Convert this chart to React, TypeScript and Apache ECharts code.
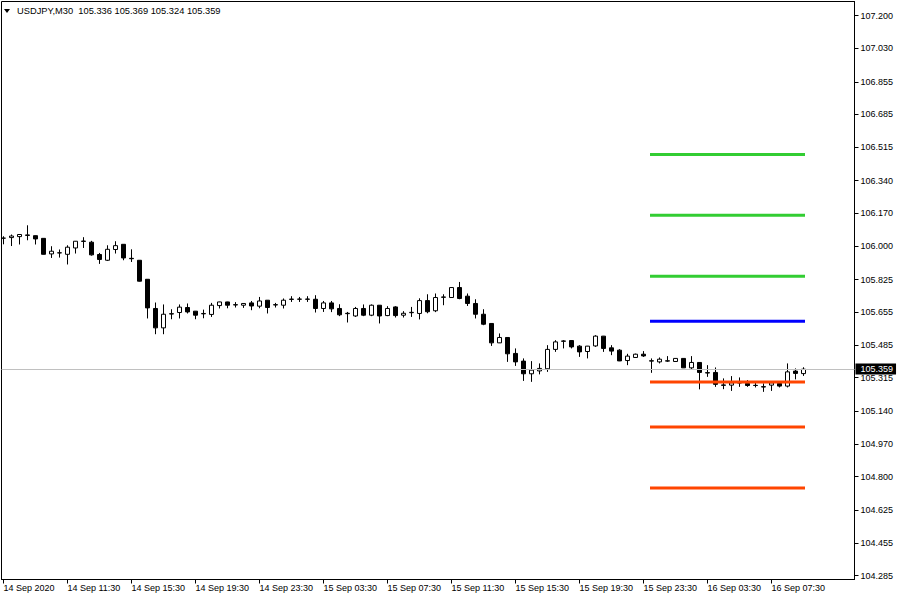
import React, { useEffect, useRef } from "react";
import * as echarts from "echarts";

const symbolTitle = "USDJPY,M30";
const lastQuote = ["105.336", "105.369", "105.324", "105.359"];

const opens = [
  106.041, 106.044, 106.049, 106.055, 106.054, 106.040, 105.959, 105.964, 105.957, 105.990,
  106.024, 106.020, 105.956, 105.926, 105.982, 106.009, 105.936, 105.926, 105.827, 105.675,
  105.574, 105.646, 105.654, 105.680, 105.661, 105.647, 105.644, 105.690, 105.709, 105.693,
  105.692, 105.704, 105.687, 105.718, 105.693, 105.692, 105.722, 105.723, 105.724, 105.723,
  105.675, 105.704, 105.675, 105.648, 105.636, 105.675, 105.640, 105.692, 105.638, 105.683,
  105.640, 105.653, 105.649, 105.716, 105.663, 105.733, 105.732, 105.784, 105.739, 105.701,
  105.645, 105.597, 105.496, 105.524, 105.441, 105.401, 105.335, 105.350, 105.361, 105.462,
  105.504, 105.508, 105.479, 105.451, 105.480, 105.531, 105.470, 105.458, 105.404, 105.420,
  105.437, 105.403, 105.397, 105.401, 105.399, 105.415, 105.366, 105.394, 105.341, 105.342,
  105.277, 105.276, 105.287, 105.285, 105.275, 105.268, 105.276, 105.285, 105.271, 105.349,
  105.336,
];
const highs = [
  106.051, 106.060, 106.061, 106.108, 106.055, 106.041, 105.999, 105.982, 106.004, 106.026,
  106.046, 106.027, 105.964, 106.004, 106.025, 106.010, 105.983, 105.927, 105.828, 105.706,
  105.696, 105.671, 105.696, 105.701, 105.662, 105.669, 105.704, 105.710, 105.710, 105.708,
  105.702, 105.714, 105.735, 105.719, 105.704, 105.727, 105.739, 105.735, 105.739, 105.744,
  105.714, 105.714, 105.697, 105.657, 105.683, 105.696, 105.696, 105.693, 105.687, 105.687,
  105.661, 105.683, 105.728, 105.749, 105.753, 105.749, 105.785, 105.813, 105.753, 105.723,
  105.671, 105.598, 105.545, 105.525, 105.467, 105.415, 105.401, 105.389, 105.484, 105.510,
  105.510, 105.509, 105.484, 105.480, 105.536, 105.532, 105.484, 105.463, 105.439, 105.440,
  105.453, 105.415, 105.420, 105.427, 105.416, 105.416, 105.427, 105.395, 105.380, 105.368,
  105.311, 105.323, 105.316, 105.302, 105.288, 105.285, 105.289, 105.289, 105.389, 105.363,
  105.369,
];
const lows = [
  106.009, 106.000, 106.008, 106.030, 106.008, 105.956, 105.938, 105.940, 105.904, 105.961,
  105.990, 105.950, 105.907, 105.922, 105.961, 105.926, 105.917, 105.815, 105.623, 105.541,
  105.541, 105.619, 105.623, 105.649, 105.619, 105.624, 105.631, 105.675, 105.676, 105.680,
  105.678, 105.666, 105.676, 105.649, 105.680, 105.675, 105.709, 105.709, 105.709, 105.654,
  105.657, 105.656, 105.635, 105.602, 105.631, 105.635, 105.635, 105.597, 105.635, 105.628,
  105.628, 105.631, 105.618, 105.650, 105.656, 105.692, 105.731, 105.723, 105.688, 105.623,
  105.588, 105.480, 105.495, 105.397, 105.376, 105.298, 105.293, 105.332, 105.345, 105.449,
  105.467, 105.467, 105.423, 105.415, 105.475, 105.449, 105.432, 105.401, 105.380, 105.418,
  105.423, 105.340, 105.389, 105.397, 105.398, 105.365, 105.358, 105.254, 105.319, 105.267,
  105.255, 105.246, 105.267, 105.267, 105.264, 105.241, 105.246, 105.264, 105.264, 105.306,
  105.324,
];
const closes = [
  106.041, 106.052, 106.060, 106.058, 106.037, 105.957, 105.973, 105.965, 105.994, 106.025,
  106.026, 105.954, 105.930, 105.983, 106.002, 105.938, 105.934, 105.817, 105.678, 105.574,
  105.645, 105.648, 105.682, 105.657, 105.640, 105.649, 105.692, 105.709, 105.692, 105.695,
  105.701, 105.688, 105.714, 105.680, 105.695, 105.718, 105.724, 105.724, 105.723, 105.675,
  105.704, 105.673, 105.642, 105.650, 105.675, 105.640, 105.692, 105.636, 105.675, 105.638,
  105.650, 105.655, 105.716, 105.658, 105.732, 105.735, 105.784, 105.727, 105.701, 105.645,
  105.593, 105.496, 105.524, 105.439, 105.397, 105.335, 105.354, 105.363, 105.462, 105.501,
  105.506, 105.475, 105.449, 105.479, 105.531, 105.467, 105.453, 105.402, 105.427, 105.437,
  105.428, 105.401, 105.411, 105.403, 105.415, 105.366, 105.394, 105.342, 105.339, 105.280,
  105.275, 105.288, 105.289, 105.274, 105.274, 105.266, 105.288, 105.271, 105.345, 105.337,
  105.359,
];

const xTickIndex = [0, 8, 16, 24, 32, 40, 48, 56, 64, 72, 80, 88, 96];
const xTickLabels = [
  "14 Sep 2020", "14 Sep 11:30", "14 Sep 15:30", "14 Sep 19:30", "14 Sep 23:30",
  "15 Sep 03:30", "15 Sep 07:30", "15 Sep 11:30", "15 Sep 15:30", "15 Sep 19:30",
  "15 Sep 23:30", "16 Sep 03:30", "16 Sep 07:30",
];
const yTickLabels = [
  "107.200", "107.030", "106.855", "106.685", "106.515", "106.340", "106.170", "106.000",
  "105.825", "105.655", "105.485", "105.315", "105.140", "104.970", "104.800", "104.625",
  "104.455", "104.285",
];

const pivotLevels = [106.477, 106.160, 105.843, 105.609, 105.292, 105.058, 104.740];
const pivotColors = ["#32cd32", "#32cd32", "#32cd32", "#0000ff", "#ff4500", "#ff4500", "#ff4500"];
const pivotStartIndex = 81;
const currentPrice = 105.359;

const FONT = "Liberation Sans";

export default function App() {
  const ref = useRef<HTMLDivElement>(null);

  useEffect(() => {
    if (!ref.current) return;
    const chart = echarts.init(ref.current, null, { renderer: "svg" });
    const lastIndex = closes.length - 1;
    const yTickValues = yTickLabels.map(Number);

    const candleData = opens.map((o, i) => [i, o, closes[i], lows[i], highs[i]]);

    const pivotSeries = pivotLevels.map((lv, k) => ({
      type: "line",
      data: [
        [pivotStartIndex, lv],
        [lastIndex, lv],
      ],
      symbol: "none",
      silent: true,
      z: 4,
      lineStyle: { color: pivotColors[k], width: 3, cap: "square" },
    }));

    const option: any = {
      animation: false,
      backgroundColor: "#ffffff",
      grid: {
        left: 1.5,
        top: 1.5,
        right: 45.5,
        bottom: 20.5,
        show: true,
        borderColor: "#000",
        borderWidth: 1,
        backgroundColor: "#fff",
      },
      xAxis: {
        type: "value",
        min: -0.25,
        max: 106.375,
        splitLine: { show: false },
        axisLine: { show: true, onZero: false, lineStyle: { color: "#000", width: 1 } },
        axisTick: { show: true, length: 4, customValues: xTickIndex, lineStyle: { color: "#000" } },
        axisLabel: {
          customValues: xTickIndex,
          formatter: (v: number) => {
            const k = xTickIndex.indexOf(Math.round(v));
            return k >= 0 ? xTickLabels[k] : "";
          },
          align: "left",
          margin: 4,
          fontSize: 9,
          fontFamily: FONT,
          color: "#000",
        },
      },
      yAxis: {
        type: "value",
        position: "right",
        min: 104.2642,
        max: 107.2729,
        splitLine: { show: false },
        axisLine: { show: true, onZero: false, lineStyle: { color: "#000", width: 1 } },
        axisTick: { show: true, length: 4, customValues: yTickValues, lineStyle: { color: "#000" } },
        axisLabel: {
          customValues: yTickValues,
          formatter: (v: number) => Number(v).toFixed(3),
          margin: 6,
          fontSize: 9,
          fontFamily: FONT,
          color: "#000",
        },
      },
      series: [
        {
          type: "candlestick",
          data: candleData,
          encode: { x: 0, y: [1, 2, 3, 4] },
          barWidth: 4,
          z: 3,
          emphasis: { disabled: true },
          itemStyle: {
            color: "#ffffff",
            color0: "#000000",
            borderColor: "#000000",
            borderColor0: "#000000",
            borderColorDoji: "#000000",
            borderWidth: 1,
          },
          markLine: {
            silent: true,
            symbol: ["none", "none"],
            animation: false,
            data: [{ yAxis: currentPrice }],
            lineStyle: { color: "#c0c0c0", width: 1, type: "solid" },
            label: {
              show: true,
              position: "end",
              distance: 1,
              formatter: lastQuote[3],
              color: "#fff",
              backgroundColor: "#000",
              padding: [1, 3, 1, 5],
              fontSize: 9,
              fontFamily: FONT,
            },
          },
        },
        ...pivotSeries,
      ],
      graphic: [
        {
          type: "polygon",
          shape: { points: [[4, 9], [10, 9], [7, 13]] },
          style: { fill: "#000" },
          z: 10,
        },
        {
          type: "text",
          x: 17,
          y: 11,
          z: 10,
          style: {
            text: symbolTitle + "  " + lastQuote.join(" "),
            fontSize: 9.3,
            fontFamily: FONT,
            fill: "#000",
            verticalAlign: "middle",
          },
        },
      ],
    };

    chart.setOption(option);
    return () => {
      chart.dispose();
    };
  }, []);

  return (
    <div
      ref={ref}
      style={{ position: "fixed", left: 0, top: 0, width: 900, height: 600, background: "#fff" }}
    />
  );
}
